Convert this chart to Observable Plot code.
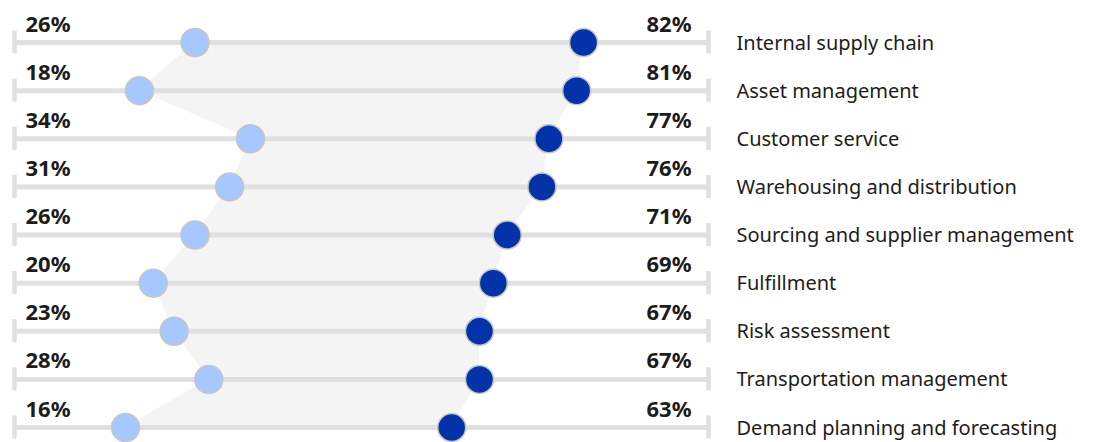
<!DOCTYPE html>
<html>
<head>
<meta charset="utf-8">
<script src="https://cdn.jsdelivr.net/npm/d3@7"></script>
<script src="https://cdn.jsdelivr.net/npm/@observablehq/plot@0.6"></script>
<style>
  html, body { margin: 0; padding: 0; background: #fff; }
  #chart svg { display: block; }
</style>
</head>
<body>
<div id="chart"></div>
<script>
const categories = [
  "Internal supply chain",
  "Asset management",
  "Customer service",
  "Warehousing and distribution",
  "Sourcing and supplier management",
  "Fulfillment",
  "Risk assessment",
  "Transportation management",
  "Demand planning and forecasting"
];
const lowValues = [26, 18, 34, 31, 26, 20, 23, 28, 16];
const highValues = [82, 81, 77, 76, 71, 69, 67, 67, 63];

const rows = categories.map((c, i) => ({
  category: c, i, low: lowValues[i], high: highValues[i]
}));
const ends = rows.flatMap(d => [{i: d.i, x: 0}, {i: d.i, x: 100}]);

const font = "'Noto Sans', 'Open Sans', sans-serif";
const ink = "#1c1c1c";

const chart = Plot.plot({
  width: 1094,
  height: 442,
  marginLeft: 14,
  marginRight: 386,
  marginTop: 0,
  marginBottom: 0,
  style: { fontFamily: font, background: "#fff" },
  x: { domain: [0, 100], range: [14, 708], axis: null },
  y: { domain: [0, 8], range: [42, 427], axis: null },
  marks: [
    Plot.areaX(rows, { y: "i", x1: "low", x2: "high", fill: "#f4f4f4", curve: "linear" }),
    Plot.ruleY(rows, { y: "i", x1: 0, x2: 100, stroke: "#e0e0e0", strokeWidth: 5 }),
    Plot.ruleX(ends, { x: "x", y1: d => d.i - 0.24, y2: d => d.i + 0.24, stroke: "#e0e0e0", strokeWidth: 4.5 }),
    Plot.dot(rows, { x: "low", y: "i", r: 14, fill: "#a6c8ff", stroke: "#c6c6c6", strokeWidth: 1.5 }),
    Plot.dot(rows, { x: "high", y: "i", r: 14, fill: "#0432a8", stroke: "#c6c6c6", strokeWidth: 1.5 }),
    Plot.text(rows, { x: 0, y: "i", text: d => d.low + "%", textAnchor: "start", lineAnchor: "bottom", dx: 11, dy: -11, fontSize: 22, fontWeight: 700, fill: ink, letterSpacing: 1 }),
    Plot.text(rows, { x: 100, y: "i", text: d => d.high + "%", textAnchor: "end", lineAnchor: "bottom", dx: -17, dy: -11, fontSize: 22, fontWeight: 700, fill: ink, letterSpacing: 1 }),
    Plot.text(rows, { x: 100, y: "i", text: "category", textAnchor: "start", lineAnchor: "bottom", dx: 28, dy: 7, fontSize: 20, fill: ink })
  ]
});
document.getElementById("chart").appendChild(chart);
</script>
</body>
</html>
